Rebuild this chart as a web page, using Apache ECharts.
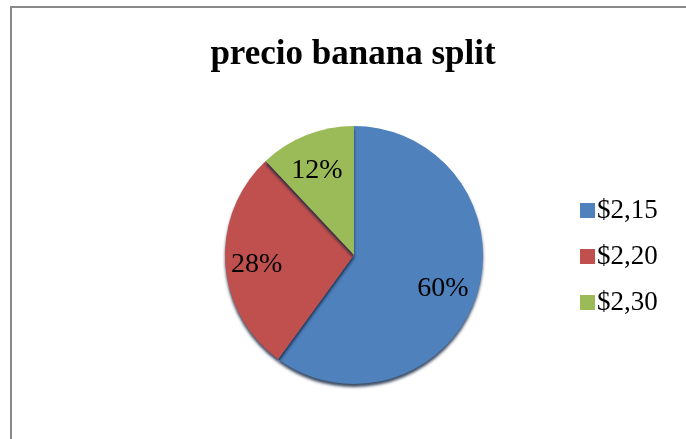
<!DOCTYPE html>
<html>
<head>
<meta charset="utf-8">
<script src="https://cdn.jsdelivr.net/npm/echarts@6/dist/echarts.min.js"></script>
<style>html,body{margin:0;padding:0;background:#fff}#c{width:686px;height:439px}</style>
</head>
<body>
<div id="c"></div>
<script>
var titleText = 'precio banana split';
var categories = ['$2,15', '$2,20', '$2,30'];
var values = [60, 28, 12];
var colors = ['#4f81bd', '#c0504d', '#9bbb59'];

var serif = '"Liberation Serif", "Times New Roman", serif';
var data = categories.map(function (c, i) {
  return { name: c, value: values[i], itemStyle: { color: colors[i] } };
});
var labelData = categories.map(function (c, i) {
  return { name: c, value: values[i] };
});

var chart = echarts.init(document.getElementById('c'));
chart.setOption({
  animation: false,
  title: {
    text: titleText, left: 348, textAlign: 'center', top: 32,
    textStyle: { fontFamily: serif, fontWeight: 'bold', fontSize: 35, color: '#000' }
  },
  legend: {
    orient: 'vertical', left: 575, top: 192, itemWidth: 15, itemHeight: 15, itemGap: 19,
    icon: 'rect', data: categories,
    textStyle: { fontFamily: serif, fontSize: 27, color: '#000', padding: [0, 0, 0, -3] }
  },
  graphic: [{
    type: 'rect', shape: { x: 11, y: 7, width: 720, height: 480 },
    style: { fill: 'none', stroke: '#898989', lineWidth: 2 }, silent: true, z: -1
  }],
  series: [{
    type: 'pie', center: [354, 255], radius: 129, startAngle: 90, clockwise: true,
    label: { show: false }, labelLine: { show: false },
    itemStyle: { shadowBlur: 3, shadowOffsetY: 3, shadowColor: 'rgba(10,30,60,0.8)' },
    emphasis: { disabled: true },
    data: data
  }, {
    type: 'pie', center: [354, 255], radius: [56, 129], startAngle: 90, clockwise: true,
    itemStyle: { color: 'rgba(0,0,0,0)' },
    label: { show: true, position: 'inside', formatter: '{d}%', fontFamily: serif, fontSize: 28, color: '#000', offset: [-2, 4] },
    labelLine: { show: false }, emphasis: { disabled: true }, silent: true,
    legendHoverLink: false,
    data: labelData
  }]
});
</script>
</body>
</html>
